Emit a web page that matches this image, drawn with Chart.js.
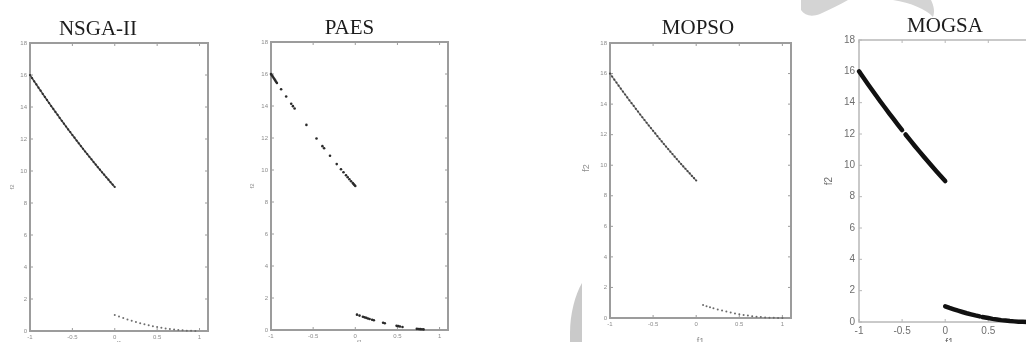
<!DOCTYPE html>
<html>
<head>
<meta charset="utf-8">
<script src="https://cdn.jsdelivr.net/npm/chart.js@4.4.1/dist/chart.umd.min.js"></script>
<style>
  html, body { margin: 0; padding: 0; background: #fff; width: 1026px; height: 342px; overflow: hidden; }
  .plot { position: absolute; top: 0; }
  .ttl { position: absolute; font-family: "Liberation Serif", "Times New Roman", serif; font-size: 21px;
         line-height: 1; color: #1c1c1c; transform: translate(-50%, -50%); white-space: nowrap; }
  svg.deco { position: absolute; left: 0; top: 0; pointer-events: none; }
</style>
</head>
<body>
<canvas id="nsga" class="plot" width="240" height="360" style="left:0px"></canvas>
<canvas id="paes" class="plot" width="240" height="360" style="left:240px"></canvas>
<canvas id="mopso" class="plot" width="260" height="360" style="left:560px"></canvas>
<canvas id="mogsa" class="plot" width="260" height="360" style="left:800px"></canvas>

<div class="ttl" style="left:98px; top:27.5px">NSGA-II</div>
<div class="ttl" style="left:349.5px; top:27px">PAES</div>
<div class="ttl" style="left:698px; top:27px">MOPSO</div>
<div class="ttl" style="left:945px; top:25px">MOGSA</div>

<svg class="deco" width="1026" height="342">
  <path d="M801,0 L848,0 C840,5 830,9 820,14 C812,17 805,16 801,10 Z" fill="#d4d4d4"/>
  <path d="M893,0 L931,0 C934,6 935,12 933,17 C926,9 911,3 893,0 Z" fill="#d4d4d4"/>
  <path d="M582,283 C575,295 570,314 570,333 L570,342 L582,342 Z" fill="#cacaca"/>
</svg>

<script>
// Axis ticks shared by all four panels
const xTickValues = [-1, -0.5, 0, 0.5, 1];
const yTickValues = [0, 2, 4, 6, 8, 10, 12, 14, 16, 18];
const axisNames = ['f1', 'f2'];

// NSGA-II: dense upper branch, lighter lower branch
const nsgaUpperF1 = [-1, -0.975, -0.95, -0.925, -0.9, -0.875, -0.85, -0.825, -0.8, -0.775, -0.75, -0.725, -0.7, -0.675,
  -0.65, -0.625, -0.6, -0.575, -0.55, -0.525, -0.5, -0.475, -0.45, -0.425, -0.4, -0.375, -0.35, -0.325, -0.3, -0.275,
  -0.25, -0.225, -0.2, -0.175, -0.15, -0.125, -0.1, -0.075, -0.05, -0.025, 0];
const nsgaUpperF2 = [16, 15.80, 15.60, 15.41, 15.21, 15.02, 14.82, 14.63, 14.44, 14.25, 14.06, 13.88, 13.69, 13.51,
  13.32, 13.14, 12.96, 12.78, 12.60, 12.43, 12.25, 12.08, 11.90, 11.73, 11.56, 11.39, 11.22, 11.06, 10.89, 10.73,
  10.56, 10.40, 10.24, 10.08, 9.92, 9.77, 9.61, 9.46, 9.30, 9.15, 9.00];
const nsgaLowerF1 = [0, 0.05, 0.1, 0.15, 0.2, 0.25, 0.3, 0.35, 0.4, 0.45, 0.5, 0.55, 0.6, 0.65, 0.7, 0.75, 0.8, 0.85, 0.9, 0.95];
const nsgaLowerF2 = [1.00, 0.90, 0.81, 0.72, 0.64, 0.56, 0.49, 0.42, 0.36, 0.30, 0.25, 0.20, 0.16, 0.12, 0.09, 0.06, 0.04, 0.02, 0.01, 0.00];

// PAES: clustered archive solutions
const paesF1 = [-1, -0.99, -0.98, -0.97, -0.96, -0.95, -0.94, -0.93, -0.88, -0.82, -0.76, -0.74, -0.72, -0.58, -0.46,
  -0.39, -0.37, -0.30, -0.22, -0.17, -0.14, -0.11, -0.09, -0.07, -0.05, -0.03, -0.02, -0.01, 0,
  0.02, 0.05, 0.09, 0.11, 0.13, 0.15, 0.17, 0.20, 0.22, 0.33, 0.35, 0.49, 0.51, 0.53, 0.56, 0.73, 0.75, 0.77, 0.79, 0.81];
const paesF2 = [16, 15.92, 15.84, 15.76, 15.68, 15.60, 15.52, 15.44, 15.05, 14.59, 14.14, 13.99, 13.84, 12.82, 11.97,
  11.49, 11.36, 10.89, 10.37, 10.05, 9.86, 9.67, 9.55, 9.42, 9.30, 9.18, 9.12, 9.06, 9.00,
  0.96, 0.90, 0.83, 0.79, 0.76, 0.72, 0.69, 0.64, 0.61, 0.45, 0.42, 0.26, 0.24, 0.22, 0.19, 0.073, 0.063, 0.053, 0.044, 0.036];

// MOPSO
const mopsoUpperF1 = [-1, -0.975, -0.95, -0.925, -0.9, -0.875, -0.85, -0.825, -0.8, -0.775, -0.75, -0.725, -0.7, -0.675,
  -0.65, -0.625, -0.6, -0.575, -0.55, -0.525, -0.5, -0.475, -0.45, -0.425, -0.4, -0.375, -0.35, -0.325, -0.3, -0.275,
  -0.25, -0.225, -0.2, -0.175, -0.15, -0.125, -0.1, -0.075, -0.05, -0.025, 0];
const mopsoUpperF2 = [16, 15.80, 15.60, 15.41, 15.21, 15.02, 14.82, 14.63, 14.44, 14.25, 14.06, 13.88, 13.69, 13.51,
  13.32, 13.14, 12.96, 12.78, 12.60, 12.43, 12.25, 12.08, 11.90, 11.73, 11.56, 11.39, 11.22, 11.06, 10.89, 10.73,
  10.56, 10.40, 10.24, 10.08, 9.92, 9.77, 9.61, 9.46, 9.30, 9.15, 9.00];
const mopsoLowerF1 = [0.08, 0.12, 0.16, 0.2, 0.25, 0.3, 0.35, 0.4, 0.45, 0.5, 0.55, 0.6, 0.65, 0.7, 0.75, 0.8, 0.85, 0.9, 0.95, 1];
const mopsoLowerF2 = [0.85, 0.77, 0.71, 0.64, 0.56, 0.49, 0.42, 0.36, 0.30, 0.25, 0.20, 0.16, 0.12, 0.09, 0.06, 0.04, 0.02, 0.01, 0.00, 0.00];

// MOGSA: continuous front, null marks a break
const mogsaF1 = [-1, -0.95, -0.9, -0.85, -0.8, -0.75, -0.7, -0.65, -0.6, -0.55, -0.5, -0.48, -0.46, -0.4, -0.35, -0.3,
  -0.25, -0.2, -0.15, -0.1, -0.05, 0, 0, 0, 0.05, 0.1, 0.15, 0.2, 0.25, 0.3, 0.35, 0.4, 0.415, 0.43, 0.5, 0.55, 0.6,
  0.65, 0.7, 0.75, 0.8, 0.85, 0.9, 0.95, 1];
const mogsaF2 = [16, 15.60, 15.21, 14.82, 14.44, 14.06, 13.69, 13.32, 12.96, 12.60, 12.25, null, 11.97, 11.56, 11.22, 10.89,
  10.56, 10.24, 9.92, 9.61, 9.30, 9.00, null, 1.00, 0.90, 0.81, 0.72, 0.64, 0.56, 0.49, 0.42, 0.36, null, 0.32, 0.25, 0.20, 0.16,
  0.12, 0.09, 0.06, 0.04, 0.02, 0.01, 0.00, 0.00];

const SANS = '"Liberation Sans", Arial, sans-serif';
const pts = (xs, ys) => xs.map((x, i) => ({ x: x, y: ys[i] }));
const plain = v => String(v);

// Box frame with inward tick marks on all four sides
const boxFrame = {
  id: 'boxFrame',
  beforeDatasetsDraw(chart, args, o) {
    const { ctx, chartArea: a, scales: { x, y } } = chart;
    ctx.save();
    ctx.strokeStyle = o.color;
    ctx.lineWidth = o.width;
    ctx.strokeRect(a.left, a.top, a.right - a.left, a.bottom - a.top);
    ctx.lineWidth = o.tickWidth;
    ctx.beginPath();
    x.ticks.forEach(t => {
      const p = x.getPixelForValue(t.value);
      ctx.moveTo(p, a.bottom); ctx.lineTo(p, a.bottom - o.tick);
      ctx.moveTo(p, a.top); ctx.lineTo(p, a.top + o.tick);
    });
    y.ticks.forEach(t => {
      const p = y.getPixelForValue(t.value);
      ctx.moveTo(a.left, p); ctx.lineTo(a.left + o.tick, p);
      ctx.moveTo(a.right, p); ctx.lineTo(a.right - o.tick, p);
    });
    ctx.stroke();
    ctx.restore();
  }
};

function panel(id, g, datasets) {
  return new Chart(document.getElementById(id), {
    type: 'scatter',
    data: { datasets: datasets },
    options: {
      responsive: false,
      animation: false,
      events: [],
      layout: { padding: { left: 0, top: g.top, right: g.right, bottom: g.bottom } },
      plugins: {
        legend: { display: false },
        tooltip: { enabled: false },
        boxFrame: { color: g.frame, width: g.frameW, tick: g.tickLen, tickWidth: g.tickW }
      },
      scales: {
        x: {
          type: 'linear', min: -1, max: 1.1,
          afterBuildTicks: s => { s.ticks = xTickValues.map(v => ({ value: v })); },
          afterFit: s => { s.height = g.xH; },
          grid: { display: false, drawTicks: false },
          border: { display: false },
          ticks: { font: { family: SANS, size: g.fs }, color: g.tc, padding: g.xPad, maxRotation: 0, autoSkip: false,
                   callback: plain },
          title: { display: true, text: axisNames[0], color: g.tc, font: { family: SANS, size: g.tfs },
                   padding: { top: 0, bottom: g.xtPad } }
        },
        y: {
          type: 'linear', min: 0, max: 18,
          afterBuildTicks: s => { s.ticks = yTickValues.map(v => ({ value: v })); },
          afterFit: s => { s.width = g.yW; },
          grid: { display: false, drawTicks: false },
          border: { display: false },
          ticks: { font: { family: SANS, size: g.fs }, color: g.tc, padding: g.yPad, autoSkip: false, callback: plain },
          title: { display: true, text: g.yTitle || axisNames[1], color: g.tc, font: { family: SANS, size: g.tfs },
                   padding: { top: g.ytPad, bottom: 0 } }
        }
      }
    },
    plugins: [boxFrame]
  });
}

const small = { fs: 6, tc: '#8c8c8c', frame: '#9c9c9c', frameW: 2, tickLen: 3, tickW: 1, xPad: 3, yPad: 3 };

panel('nsga', Object.assign({}, small, { top: 43, right: 32, bottom: 13, xH: 16, yW: 30, tfs: 6, xtPad: 0, ytPad: 8.4 }), [
  { data: pts(nsgaUpperF1, nsgaUpperF2), showLine: true, borderColor: '#505050', borderWidth: 1.6,
    pointRadius: 1.1, pointBorderWidth: 0, pointBackgroundColor: '#2e2e2e', clip: false },
  { data: pts(nsgaLowerF1, nsgaLowerF2), pointRadius: 1.0, pointBorderWidth: 0, pointBackgroundColor: '#6e6e6e', clip: false }
]);

panel('paes', Object.assign({}, small, { top: 42, right: 32, bottom: 14, xH: 16, yW: 31, tfs: 6, xtPad: 0, ytPad: 8.4 }), [
  { data: pts(paesF1, paesF2), pointRadius: 1.3, pointBorderWidth: 0, pointBackgroundColor: '#2a2a2a', clip: false }
]);

panel('mopso', Object.assign({}, small, { top: 43, right: 29, bottom: 12, xH: 30, yW: 50, tfs: 9, xtPad: 0.6, ytPad: 21.6,
  yTitle: '          f2' }), [
  { data: pts(mopsoUpperF1, mopsoUpperF2), showLine: true, borderColor: '#8a8a8a', borderWidth: 1.3,
    pointRadius: 1.1, pointBorderWidth: 0, pointBackgroundColor: '#474747', clip: false },
  { data: pts(mopsoLowerF1, mopsoLowerF2), pointRadius: 1.0, pointBorderWidth: 0, pointBackgroundColor: '#6a6a6a', clip: false }
]);

panel('mogsa', { fs: 10, tc: '#6e6e6e', frame: '#b8b8b8', frameW: 1.5, tickLen: 3, tickW: 1, xPad: 3, yPad: 4,
  top: 40, right: 20, bottom: 8, xH: 30, yW: 59, tfs: 10, xtPad: 2.5, ytPad: 23 }, [
  { data: pts(mogsaF1, mogsaF2), showLine: true, spanGaps: false, borderColor: '#111', borderWidth: 4.5,
    borderCapStyle: 'round', pointRadius: 0, clip: false }
]);
</script>
</body>
</html>
